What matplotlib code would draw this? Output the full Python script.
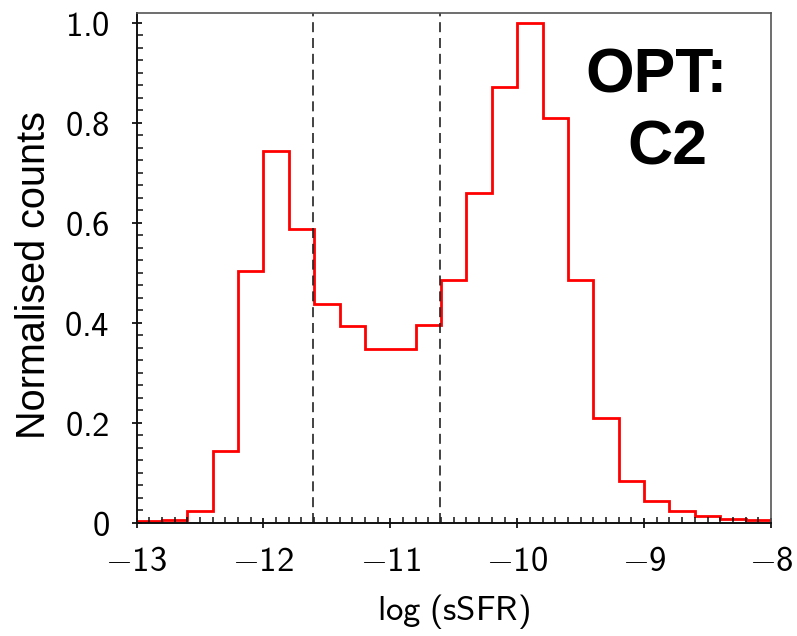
import matplotlib
matplotlib.use("Agg")
import matplotlib.pyplot as plt
import numpy as np
from matplotlib.ticker import MultipleLocator

plt.rcParams['mathtext.fontset'] = 'custom'
plt.rcParams['mathtext.rm'] = 'cmss10'
plt.rcParams['mathtext.sf'] = 'cmss10'
plt.rcParams['mathtext.it'] = 'cmss10'
plt.rcParams['mathtext.fallback'] = 'cm'

# histogram of log(sSFR), bins of 0.2 dex from -13 to -8
bin_edges = np.linspace(-13.0, -8.0, 26)
counts = [0.003, 0.005, 0.023, 0.143, 0.503, 0.744, 0.587, 0.437, 0.394, 0.347,
          0.347, 0.396, 0.486, 0.660, 0.871, 1.0, 0.809, 0.486, 0.210, 0.083,
          0.043, 0.023, 0.013, 0.007, 0.005]

# boundaries of the green valley
cuts = [-11.61, -10.61]

xticks = [-13, -12, -11, -10, -9, -8]
xlabels = ['$-13$', '$-12$', '$-11$', '$-10$', '$-9$', '$-8$']
yticks = [0, 0.2, 0.4, 0.6, 0.8, 1.0]
ylabels = ['$0$', '$0.2$', '$0.4$', '$0.6$', '$0.8$', '$1.0$']

fig = plt.figure(figsize=(7.97, 6.36), dpi=100)
ax = fig.add_axes([0.1713, 0.178, 0.7961, 0.802])

ax.stairs(counts, bin_edges, baseline=None, color='red', lw=2.0)
for c in cuts:
    ax.axvline(c, color='#222222', lw=1.2, dashes=(6, 3.5))

ax.set_xlim(-13, -8)
ax.set_ylim(0, 1.02)

ax.set_xticks(xticks)
ax.set_xticklabels(xlabels)
ax.set_yticks(yticks)
ax.set_yticklabels(ylabels)
ax.xaxis.set_minor_locator(MultipleLocator(0.1))
ax.yaxis.set_minor_locator(MultipleLocator(0.025))

ax.tick_params(which='major', direction='inout', length=7, width=1.2,
               top=False, right=False, labelsize=25)
ax.tick_params(which='minor', direction='in', length=4, width=1.1,
               color='#111111', top=False, right=False)
ax.tick_params(axis='x', which='major', pad=12)
ax.tick_params(axis='y', which='major', pad=16)

for side in ['left', 'bottom']:
    ax.spines[side].set_color('#111111')
    ax.spines[side].set_linewidth(1.4)
for side in ['top', 'right']:
    ax.spines[side].set_color('#555555')
    ax.spines[side].set_linewidth(1.2)

ax.set_xlabel(r'$\mathrm{log\ (sSFR)}$', fontsize=25, labelpad=10)
ax.set_ylabel('Normalised counts', fontsize=28.5, family='Liberation Sans', labelpad=8)
ax.yaxis.label.set_y(0.485)

ax.text(0.820, 0.8445, 'OPT:', transform=ax.transAxes, ha='center', va='baseline',
        fontsize=45, fontweight='bold', family='Liberation Sans')
ax.text(0.837, 0.7033, 'C2', transform=ax.transAxes, ha='center', va='baseline',
        fontsize=45, fontweight='bold', family='Liberation Sans')

fig.savefig('out.png', dpi=100)
